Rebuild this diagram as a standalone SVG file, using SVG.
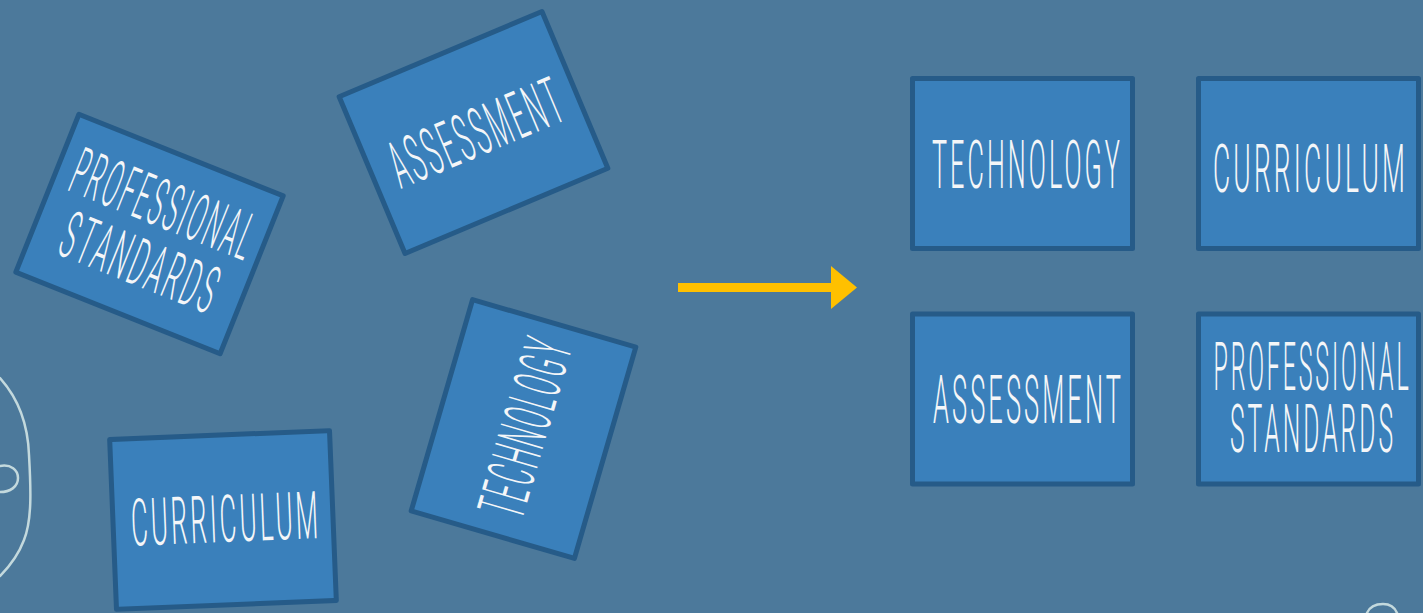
<svg xmlns="http://www.w3.org/2000/svg" width="1423" height="613" viewBox="0 0 1423 613">
<defs>
<style>
.box{fill:#3a80bb;stroke:#265b88;stroke-width:5;stroke-linejoin:round}
.lbl{fill:#f4f6f8;font-family:Roboto,"Open Sans","DejaVu Sans",sans-serif;font-weight:300;font-size:66px;letter-spacing:8px;text-anchor:middle}
.deco{fill:none;stroke:#c3d9dd;stroke-width:2.5;stroke-linecap:round}
</style>
</defs>
<rect width="1423" height="613" fill="#4c799b"/>
<g id="decor">
<path class="deco" d="M0,378 C18,398 28,425 29,455 C31,490 32,520 24,540 C18,556 10,566 0,576"/>
<path class="deco" d="M0,466 C11,464 18,470 18,478 C18,487 10,492 0,492"/>
<path class="deco" d="M1367,613 C1370,606 1377,604 1383,604 C1390,604 1395,608 1397,613"/>
</g>
<g id="connectors">
<rect x="678" y="283" width="156" height="9" fill="#ffc000"/>
<polygon points="831,266 857,287.5 831,309" fill="#ffc000"/>
</g>
<g id="scattered-professional" transform="translate(149.5,234) rotate(21.8)">
<rect class="box" x="-110" y="-85" width="220" height="170"/>
<text class="lbl" x="3" y="-10" textLength="194" lengthAdjust="spacingAndGlyphs">PROFESSIONAL</text>
<text class="lbl" x="3" y="53" textLength="166" lengthAdjust="spacingAndGlyphs">STANDARDS</text>
</g>
<g id="scattered-assessment" transform="translate(473.5,132.5) rotate(-22.8)">
<rect class="box" x="-110" y="-85" width="220" height="170"/>
<text class="lbl" x="3" y="24" textLength="184" lengthAdjust="spacingAndGlyphs">ASSESSMENT</text>
</g>
<g id="scattered-technology" transform="translate(523.5,429) rotate(-73.8)">
<rect class="box" x="-110" y="-85" width="220" height="170"/>
<text class="lbl" x="3" y="24" textLength="184" lengthAdjust="spacingAndGlyphs">TECHNOLOGY</text>
</g>
<g id="scattered-curriculum" transform="translate(223,520) rotate(-2.3)">
<rect class="box" x="-110" y="-85" width="220" height="170"/>
<text class="lbl" x="3" y="22" textLength="190" lengthAdjust="spacingAndGlyphs">CURRICULUM</text>
</g>
<g id="grid-technology" transform="translate(1022.5,163.5)">
<rect class="box" x="-110" y="-85" width="220" height="170"/>
<text class="lbl" x="5" y="24.5" textLength="191" lengthAdjust="spacingAndGlyphs">TECHNOLOGY</text>
</g>
<g id="grid-curriculum" transform="translate(1308.5,163.5)">
<rect class="box" x="-110" y="-85" width="220" height="170"/>
<text class="lbl" x="2" y="28" textLength="195" lengthAdjust="spacingAndGlyphs">CURRICULUM</text>
</g>
<g id="grid-assessment" transform="translate(1022.5,399)">
<rect class="box" x="-110" y="-85" width="220" height="170"/>
<text class="lbl" x="6" y="24" textLength="191" lengthAdjust="spacingAndGlyphs">ASSESSMENT</text>
</g>
<g id="grid-professional" transform="translate(1308.5,399)">
<rect class="box" x="-110" y="-85" width="220" height="170"/>
<text class="lbl" x="4" y="-9" textLength="198" lengthAdjust="spacingAndGlyphs">PROFESSIONAL</text>
<text class="lbl" x="4.5" y="53" textLength="166" lengthAdjust="spacingAndGlyphs">STANDARDS</text>
</g>
</svg>
